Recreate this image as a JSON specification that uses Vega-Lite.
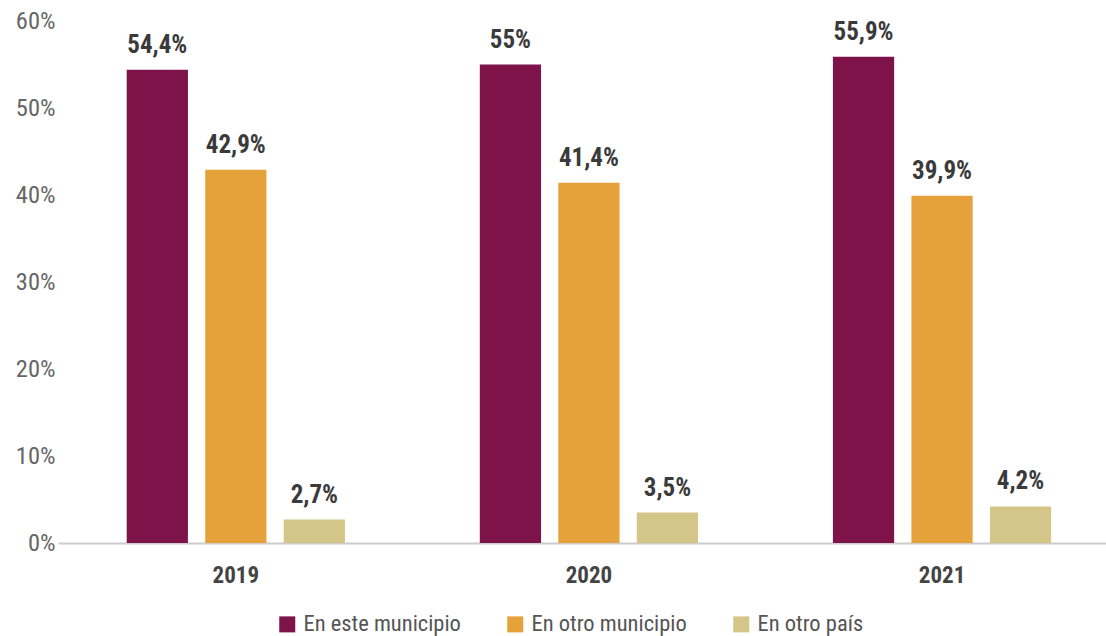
{
  "$schema": "https://vega.github.io/schema/vega-lite/v6.json",
  "autosize": {"type": "none"},
  "padding": {"left": 58, "top": 21, "right": 0, "bottom": 93},
  "width": 1048,
  "height": 522,
  "background": "white",
  "config": {
    "locale": {"number": {"decimal": ",", "thousands": ".", "grouping": [3], "currency": ["", " €"]}},
    "font": "Roboto Condensed, Liberation Sans Narrow, Arial Narrow, Roboto, sans-serif",
    "view": {"stroke": null}
  },
  "data": {
    "values": [
      {"anio": "2019", "lugar": "En este municipio", "valor": 0.544},
      {"anio": "2019", "lugar": "En otro municipio", "valor": 0.429},
      {"anio": "2019", "lugar": "En otro país", "valor": 0.027},
      {"anio": "2020", "lugar": "En este municipio", "valor": 0.55},
      {"anio": "2020", "lugar": "En otro municipio", "valor": 0.414},
      {"anio": "2020", "lugar": "En otro país", "valor": 0.035},
      {"anio": "2021", "lugar": "En este municipio", "valor": 0.559},
      {"anio": "2021", "lugar": "En otro municipio", "valor": 0.399},
      {"anio": "2021", "lugar": "En otro país", "valor": 0.042}
    ]
  },
  "encoding": {
    "x": {
      "field": "anio", "type": "nominal",
      "scale": {"paddingInner": 0.382, "paddingOuter": 0.175, "align": 0.556},
      "axis": {
        "title": null, "labelAngle": 0, "ticks": false,
        "domainColor": "#cccccc", "domainWidth": 2,
        "labelFontSize": 23, "labelFontWeight": "bold", "labelColor": "#444444",
        "labelPadding": 21
      }
    },
    "xOffset": {
      "field": "lugar", "type": "nominal",
      "scale": {"paddingInner": 0.22, "paddingOuter": 0}
    },
    "y": {
      "field": "valor", "type": "quantitative",
      "scale": {"domain": [0, 0.6], "nice": false},
      "axis": {
        "title": null, "format": ".0%", "values": [0, 0.1, 0.2, 0.3, 0.4, 0.5, 0.6],
        "labelOverlap": false, "labelFlush": false,
        "grid": false, "domain": false, "ticks": false,
        "labelFontSize": 24.5, "labelColor": "#666666", "labelPadding": 3
      }
    }
  },
  "layer": [
    {
      "mark": {"type": "bar"},
      "encoding": {
        "color": {
          "field": "lugar", "type": "nominal",
          "scale": {"domain": ["En este municipio", "En otro municipio", "En otro país"], "range": ["#7d1349", "#e6a23a", "#d4c688"]},
          "legend": {
            "title": null, "orient": "none", "direction": "horizontal",
            "legendX": 218, "legendY": 592,
            "symbolType": "square", "symbolSize": 256, "symbolStrokeWidth": 0,
            "labelFontSize": 22.5, "labelColor": "#555555", "labelOffset": 5,
            "columnPadding": 43, "labelLimit": 300
          }
        }
      }
    },
    {
      "mark": {"type": "text", "baseline": "bottom", "dy": -12, "fontSize": 25, "fontWeight": "bold", "color": "#3a3a3a"},
      "encoding": {
        "text": {"field": "valor", "type": "quantitative", "format": ".1~%"}
      }
    }
  ]
}
